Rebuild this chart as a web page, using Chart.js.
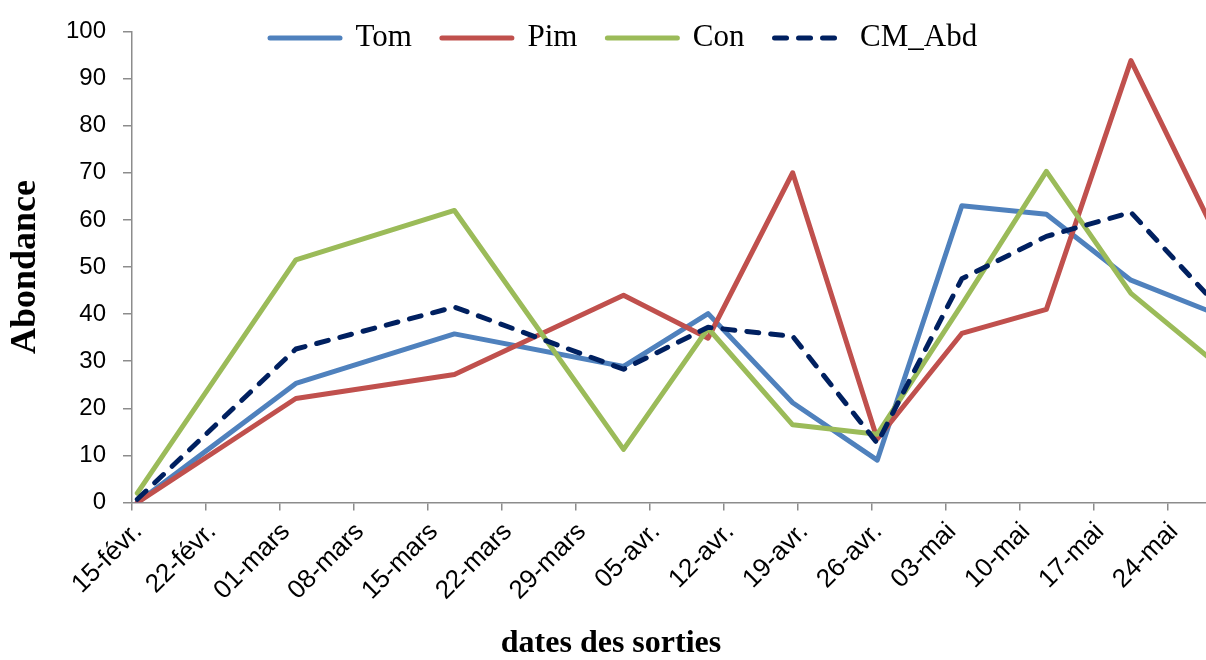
<!DOCTYPE html>
<html lang="fr">
<head>
  <meta charset="UTF-8">
  <title>Abondance par date de sortie</title>
  <script src="https://cdn.jsdelivr.net/npm/chart.js@4.4.1/dist/chart.umd.min.js"></script>
  <style>
    html, body {
      margin: 0;
      padding: 0;
      background: #ffffff;
      overflow: hidden;
    }
    .chart-box {
      position: relative;
      width: 1206px;
      height: 660px;
    }
  </style>
</head>
<body>

<div class="chart-box">
  <canvas id="abondanceChart"></canvas>
</div>

<script>
  // --- data ---
  const axisStart = '2013-02-15';
  const tickLabels = ['15-févr.', '22-févr.', '01-mars', '08-mars', '15-mars', '22-mars', '29-mars',
                      '05-avr.', '12-avr.', '19-avr.', '26-avr.', '03-mai', '10-mai', '17-mai', '24-mai'];
  const sampleDates = ['2013-02-15', '2013-03-02', '2013-03-17', '2013-04-02', '2013-04-10', '2013-04-18',
                       '2013-04-26', '2013-05-04', '2013-05-12', '2013-05-20', '2013-05-28'];
  const tom   = [0,   25.3, 35.8, 28.9, 40.1, 21.2,  9.0, 63.0, 61.2, 47.2, 40.1];
  const pim   = [0,   22.1, 27.2, 44.0, 34.9, 70.0, 13.5, 35.9, 41.0, 93.8, 57.0];
  const con   = [2.0, 51.5, 62.0, 11.3, 37.0, 16.5, 14.5, 42.0, 70.3, 44.4, 29.6];
  const cmAbd = [0.7, 32.6, 41.5, 28.3, 37.2, 35.3, 12.6, 47.5, 56.5, 61.6, 42.2];

  const axisEndDay = 101.6;   // the picture is cut a few days after 24-mai
  const axisGrey = '#8c8c8c';

  // days since the first tick; Excel puts each point in the middle of its day
  function dayOffset(iso) {
    const a = new Date(axisStart + 'T00:00:00Z');
    const b = new Date(iso + 'T00:00:00Z');
    return (b - a) / 86400000;
  }
  const toPoints = (vals) => vals.map((v, i) => ({ x: dayOffset(sampleDates[i]) + 0.5, y: v }));

  function lineSet(label, vals, color, order, dash) {
    return {
      label: label,
      data: toPoints(vals),
      borderColor: color,
      backgroundColor: color,
      borderWidth: 5,
      borderDash: dash || [],
      borderCapStyle: 'round',
      borderJoinStyle: 'round',
      pointRadius: 0,
      tension: 0,
      order: order
    };
  }

  // legend and bottom title sit where Excel put them, not where Chart.js would
  const placeBlocks = {
    id: 'placeBlocks',
    afterLayout(chart) {
      const lg = chart.legend;
      const pad = lg.options.labels.padding;
      const fs = lg.options.labels.font.size;
      lg.left = 270 - pad;
      lg.right = lg.left + 1000;
      lg.top = 38 - pad - fs / 2;
      lg.bottom = lg.top + 2 * pad + fs + 10;   // legend is clipped to its box

      const tb = chart.titleBlock;
      tb.left += 8;
      tb.right += 8;
      tb.top += 3;
      tb.bottom += 3;
    }
  };

  // with usePointStyle the default items take the point style, so put the line style back
  function legendItems(chart) {
    return Chart.defaults.plugins.legend.labels.generateLabels(chart).map((item) => {
      const ds = chart.data.datasets[item.datasetIndex];
      item.strokeStyle = ds.borderColor;
      item.lineWidth = ds.borderWidth;
      item.lineDash = ds.borderDash;
      item.lineCap = 'round';
      return item;
    });
  }

  const ctx = document.getElementById('abondanceChart').getContext('2d');
  const abondanceChart = new Chart(ctx, {
    type: 'line',
    data: {
      datasets: [
        lineSet('Tom', tom, '#4f81bd', 3),
        lineSet('Pim', pim, '#c0504d', 2),
        lineSet('Con', con, '#9bbb59', 1),
        lineSet('CM_Abd', cmAbd, '#002060', 0, [12, 12])
      ]
    },
    options: {
      responsive: true,
      maintainAspectRatio: false,
      devicePixelRatio: 1,
      animation: false,
      events: [],
      layout: { padding: { top: 26, right: 0, bottom: 0, left: 0 } },
      plugins: {
        tooltip: { enabled: false },
        legend: {
          position: 'top',
          align: 'start',
          maxHeight: 1,
          labels: {
            usePointStyle: true,
            pointStyle: 'line',
            pointStyleWidth: 70,
            padding: 30,
            color: '#000000',
            font: { family: "'Liberation Serif', 'Times New Roman', serif", size: 31 },
            generateLabels: legendItems,
            sort: (a, b) => a.datasetIndex - b.datasetIndex
          }
        },
        title: {
          display: true,
          position: 'bottom',
          text: 'dates des sorties',
          color: '#000000',
          font: { family: "'Liberation Serif', 'Times New Roman', serif", size: 32, weight: 'bold', lineHeight: 1.2 },
          padding: { top: 4, bottom: 0 }
        }
      },
      scales: {
        x: {
          type: 'linear',
          min: 0,
          max: axisEndDay,
          afterBuildTicks: (scale) => {
            scale.ticks = tickLabels.map((_, i) => ({ value: i * 7 }));
          },
          afterFit: (scale) => { scale.height = 115; },
          ticks: {
            autoSkip: false,
            minRotation: 45,
            maxRotation: 45,
            padding: 6,
            labelOffset: 6,
            color: '#000000',
            font: { family: "'Liberation Sans', Arial, sans-serif", size: 26 },
            callback: (value, index) => tickLabels[index]
          },
          grid: { drawOnChartArea: false, tickLength: 8, color: axisGrey, lineWidth: 1.5 },
          border: { color: axisGrey, width: 1.5 }
        },
        y: {
          min: 0,
          max: 100,
          afterFit: (scale) => { scale.width = 132; },
          ticks: {
            stepSize: 10,
            padding: 17,
            color: '#000000',
            font: { family: "'Liberation Sans', Arial, sans-serif", size: 24 }
          },
          grid: { drawOnChartArea: false, tickLength: 9, color: axisGrey, lineWidth: 1.5 },
          border: { color: axisGrey, width: 1.5 },
          title: {
            display: true,
            text: 'Abondance',
            color: '#000000',
            font: { family: "'Liberation Serif', 'Times New Roman', serif", size: 36, weight: 'bold' },
            padding: { top: 4, bottom: 0 }
          }
        }
      }
    },
    plugins: [placeBlocks]
  });
</script>

</body>
</html>
